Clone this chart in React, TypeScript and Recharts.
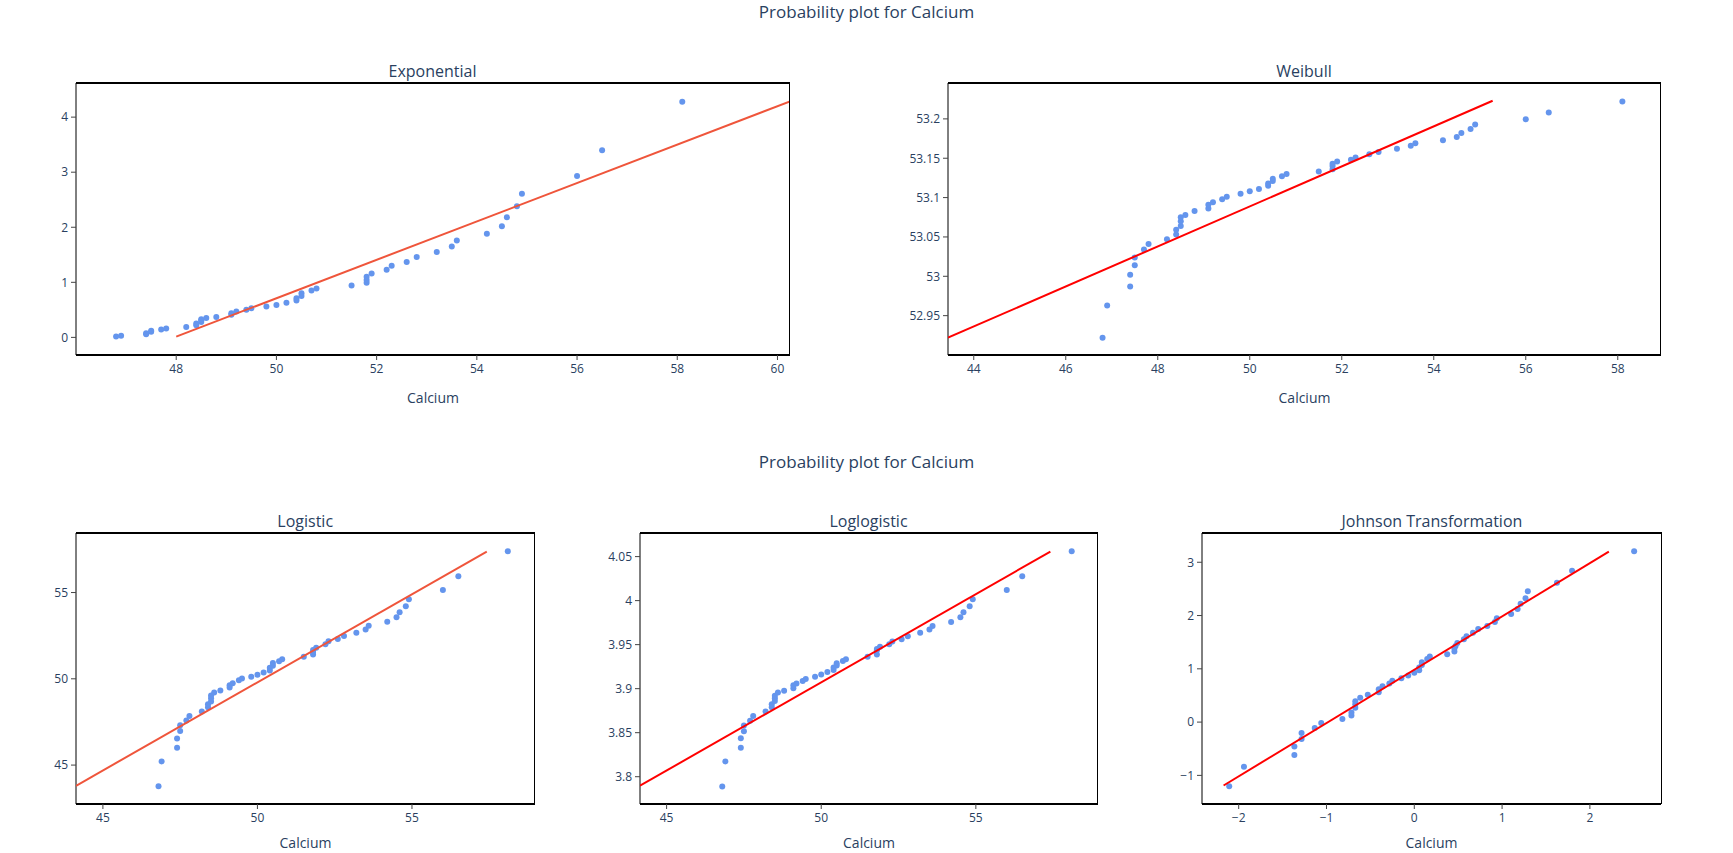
import React from 'react';
import { ScatterChart, Scatter, XAxis, YAxis } from 'recharts';

// sorted Calcium sample (shared x of the first four panels)
const calcium = [
  46.8, 46.9, 47.4, 47.4, 47.5, 47.5, 47.7, 47.8, 48.2, 48.4,
  48.4, 48.5, 48.5, 48.5, 48.6, 48.8, 49.1, 49.1, 49.2, 49.4,
  49.5, 49.8, 50.0, 50.2, 50.4, 50.4, 50.5, 50.5, 50.7, 50.8,
  51.5, 51.8, 51.8, 51.8, 51.9, 52.2, 52.3, 52.6, 52.8, 53.2,
  53.5, 53.6, 54.2, 54.5, 54.6, 54.8, 54.9, 56.0, 56.5, 58.1,
];

const expQ = [
  0.014, 0.03, 0.055, 0.075, 0.1, 0.12, 0.145, 0.16, 0.19, 0.22,
  0.25, 0.28, 0.31, 0.33, 0.35, 0.37, 0.41, 0.44, 0.47, 0.5,
  0.53, 0.56, 0.59, 0.63, 0.67, 0.71, 0.75, 0.8, 0.85, 0.89,
  0.94, 0.99, 1.04, 1.1, 1.16, 1.23, 1.3, 1.37, 1.46, 1.55,
  1.65, 1.76, 1.88, 2.02, 2.18, 2.38, 2.61, 2.93, 3.4, 4.28,
];

const weibullQ = [
  52.922, 52.963, 52.987, 53.002, 53.014, 53.024, 53.034, 53.041, 53.047, 53.053,
  53.059, 53.064, 53.07, 53.075, 53.078, 53.083, 53.086, 53.091, 53.094, 53.098,
  53.101, 53.105, 53.108, 53.111, 53.115, 53.118, 53.121, 53.124, 53.127, 53.13,
  53.133, 53.136, 53.14, 53.143, 53.146, 53.148, 53.151, 53.155, 53.158, 53.162,
  53.166, 53.169, 53.173, 53.177, 53.182, 53.187, 53.193, 53.1995, 53.208, 53.222,
];

const logisticQ = [
  43.77, 45.21, 46.0, 46.54, 46.97, 47.31, 47.58, 47.85, 48.1, 48.35,
  48.53, 48.68, 48.87, 49.03, 49.2, 49.32, 49.49, 49.63, 49.74, 49.92,
  50.02, 50.12, 50.23, 50.37, 50.48, 50.64, 50.75, 50.91, 51.02, 51.14,
  51.28, 51.41, 51.55, 51.67, 51.8, 52.01, 52.17, 52.3, 52.48, 52.67,
  52.86, 53.07, 53.3, 53.57, 53.86, 54.21, 54.61, 55.15, 55.94, 57.39,
];

const loglogisticQ = [
  3.789, 3.8174, 3.833, 3.8436, 3.8515, 3.8583, 3.8636, 3.869, 3.874, 3.8788,
  3.8822, 3.886, 3.889, 3.892, 3.8955, 3.8977, 3.9004, 3.9038, 3.906, 3.9087,
  3.911, 3.9136, 3.9162, 3.9189, 3.9211, 3.9241, 3.9264, 3.929, 3.9313, 3.9335,
  3.9362, 3.9388, 3.9437, 3.945, 3.9475, 3.9505, 3.9535, 3.9562, 3.9596, 3.9634,
  3.9671, 3.9713, 3.9758, 3.981, 3.9867, 3.9936, 4.0015, 4.0121, 4.0276, 4.056,
];

// Johnson transformed sample and its quantiles
const johnsonX = [
  -2.108, -1.94, -1.366, -1.366, -1.284, -1.284, -1.134, -1.06, -0.819, -0.716,
  -0.716, -0.672, -0.672, -0.672, -0.616, -0.53, -0.405, -0.405, -0.362, -0.284,
  -0.25, -0.147, -0.069, 0.0, 0.056, 0.056, 0.086, 0.086, 0.147, 0.177,
  0.375, 0.457, 0.457, 0.47, 0.49, 0.565, 0.595, 0.668, 0.728, 0.832,
  0.918, 0.94, 1.103, 1.177, 1.211, 1.267, 1.293, 1.625, 1.797, 2.504,
];
const johnsonY = [
  -1.204, -0.836, -0.618, -0.456, -0.318, -0.206, -0.112, -0.019, 0.056, 0.125,
  0.181, 0.268, 0.337, 0.393, 0.456, 0.512, 0.562, 0.618, 0.674, 0.724,
  0.774, 0.824, 0.874, 0.924, 0.973, 1.023, 1.073, 1.123, 1.186, 1.229,
  1.273, 1.323, 1.38, 1.43, 1.485, 1.554, 1.61, 1.679, 1.748, 1.803,
  1.878, 1.947, 2.028, 2.121, 2.221, 2.326, 2.457, 2.615, 2.84, 3.206,
];

// fitted reference lines (endpoints)
const expLineX = [48.0, 60.25];
const expLineY = [0.014, 4.285];
const weibullLineX = [43.44, 55.28];
const weibullLineY = [52.922, 53.223];
const logisticLineX = [44.13, 57.42];
const logisticLineY = [43.8, 57.37];
const loglogisticLineX = [44.14, 57.41];
const loglogisticLineY = [3.7898, 4.0557];
const johnsonLineX = [-2.172, 2.216];
const johnsonLineY = [-1.19, 3.2];

const TEXT = '#2a3f5f';
const FONT = '"Open Sans", sans-serif';
const DOT = '#6495ED';

type Pt = { x: number; y: number };
const zip = (xs: number[], ys: number[]): Pt[] => xs.map((x, i) => ({ x, y: ys[i] }));

const fmt = (v: number) => String(v).replace('-', '\u2212');

interface PanelProps {
  title: string;
  left: number;
  top: number;
  w: number;
  h: number;
  pts: Pt[];
  line: Pt[];
  lineColor: string;
  xDomain: [number, number];
  yDomain: [number, number];
  xTicks: number[];
  yTicks: number[];
  labelOffset?: number;
}

const YW = 70;
const MT = 40;
const MR = 20;
const XH = 56;

const Panel: React.FC<PanelProps> = ({
  title, left, top, w, h, pts, line, lineColor, xDomain, yDomain, xTicks, yTicks, labelOffset = 8,
}) => {
  const tick = { fill: TEXT, fontSize: 12, fontFamily: FONT };
  return (
    <div style={{ position: 'absolute', left: left - YW, top: top - MT }}>
      <div
        style={{
          position: 'absolute', left: YW, width: w, top: MT - 22, height: 20,
          lineHeight: '20px', textAlign: 'center', fontSize: 16, color: TEXT, fontFamily: FONT,
        }}
      >
        {title}
      </div>
      <ScatterChart width={YW + w + MR} height={MT + h + XH} margin={{ top: MT, right: MR, bottom: 0, left: 0 }}>
        <XAxis
          type="number" dataKey="x" domain={xDomain} ticks={xTicks}
          allowDataOverflow height={XH} tick={tick} tickSize={5} tickMargin={4}
          tickFormatter={fmt}
          axisLine={{ stroke: '#000', strokeWidth: 2 }} tickLine={{ stroke: '#444' }}
          label={{ value: 'Calcium', position: 'insideBottom', offset: labelOffset, fill: TEXT, fontSize: 14, fontFamily: FONT }}
        />
        <YAxis
          type="number" dataKey="y" domain={yDomain} ticks={yTicks}
          allowDataOverflow width={YW} tick={tick} tickSize={5} tickMargin={3}
          tickFormatter={fmt}
          axisLine={{ stroke: '#000', strokeWidth: 1 }} tickLine={{ stroke: '#444' }}
        />
        <Scatter
          data={pts} isAnimationActive={false}
          shape={(p: any) => <circle cx={p.cx} cy={p.cy} r={3} fill={DOT} />}
        />
        <Scatter
          data={line} isAnimationActive={false}
          line={{ stroke: lineColor, strokeWidth: 2 }} shape={() => <g />}
        />
      </ScatterChart>
      {/* mirrored frame: top and right edges of the plot box */}
      <div style={{ position: 'absolute', left: YW, top: MT - 1, width: w + 0.5, height: 2, background: '#000' }} />
      <div style={{ position: 'absolute', left: YW + w - 0.5, top: MT, width: 1, height: h, background: '#000' }} />
    </div>
  );
};

const MainTitle: React.FC<{ y: number }> = ({ y }) => (
  <div
    style={{
      position: 'absolute', left: 0, width: 1733, top: y - 12, height: 24, lineHeight: '24px',
      textAlign: 'center', fontSize: 17, color: TEXT, fontFamily: FONT,
    }}
  >
    Probability plot for Calcium
  </div>
);

export default function App() {
  return (
    <div style={{ position: 'absolute', left: 0, top: 0, width: 1733, height: 853, background: '#fff', overflow: 'hidden' }}>
      <MainTitle y={12} />
      <Panel
        title="Exponential" left={75.5} top={83} w={714} h={272}
        pts={zip(calcium, expQ)} line={zip(expLineX, expLineY)} lineColor="#EF553B"
        xDomain={[46.0, 60.25]} yDomain={[-0.32, 4.62]}
        xTicks={[48, 50, 52, 54, 56, 58, 60]} yTicks={[0, 1, 2, 3, 4]}
      />
      <Panel
        title="Weibull" left={947.5} top={83} w={713} h={272}
        pts={zip(calcium, weibullQ)} line={zip(weibullLineX, weibullLineY)} lineColor="#ff0000"
        xDomain={[43.44, 58.94]} yDomain={[52.9, 53.2456]}
        xTicks={[44, 46, 48, 50, 52, 54, 56, 58]} yTicks={[52.95, 53, 53.05, 53.1, 53.15, 53.2]}
      />
      <MainTitle y={462} />
      <Panel
        title="Logistic" left={75.7} top={533} w={459} h={271} labelOffset={12}
        pts={zip(calcium, logisticQ)} line={zip(logisticLineX, logisticLineY)} lineColor="#EF553B"
        xDomain={[44.13, 58.98]} yDomain={[42.745, 58.45]}
        xTicks={[45, 50, 55]} yTicks={[45, 50, 55]}
      />
      <Panel
        title="Loglogistic" left={639.5} top={533} w={458} h={271} labelOffset={12}
        pts={zip(calcium, loglogisticQ)} line={zip(loglogisticLineX, loglogisticLineY)} lineColor="#ff0000"
        xDomain={[44.14, 58.95]} yDomain={[3.769, 4.0768]}
        xTicks={[45, 50, 55]} yTicks={[3.8, 3.85, 3.9, 3.95, 4, 4.05]}
      />
      <Panel
        title="Johnson Transformation" left={1202.4} top={533} w={459} h={271} labelOffset={12}
        pts={zip(johnsonX, johnsonY)} line={zip(johnsonLineX, johnsonLineY)} lineColor="#ff0000"
        xDomain={[-2.418, 2.81]} yDomain={[-1.537, 3.549]}
        xTicks={[-2, -1, 0, 1, 2]} yTicks={[-1, 0, 1, 2, 3]}
      />
    </div>
  );
}
